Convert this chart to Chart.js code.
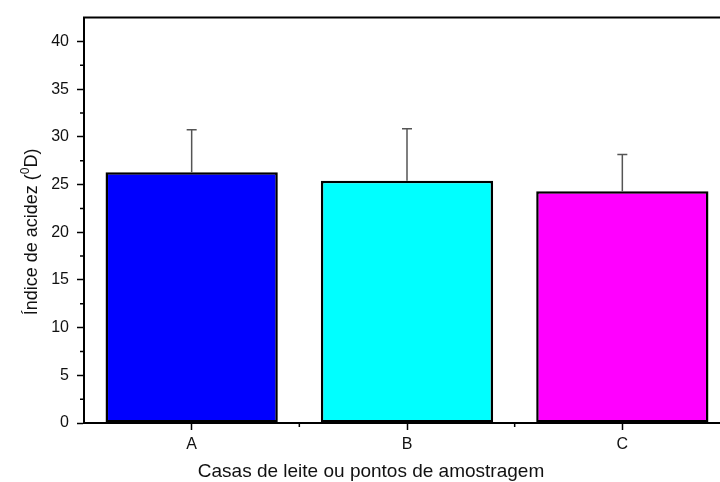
<!DOCTYPE html>
<html>
<head>
<meta charset="utf-8">
<script src="https://cdn.jsdelivr.net/npm/chart.js@4"></script>
<style>
    body { margin: 0; overflow: hidden; background: #fff; }
    #wrap { width: 740px; height: 482px; }
</style>
</head>
<body>
<div id="wrap"><canvas id="acidChart"></canvas></div>
<script>
const categories = ["A", "B", "C"];
const acidity = [26.3, 25.4, 24.3];
const acidityErr = [4.45, 5.45, 3.85];
const barColors = ["#0000ff", "#00ffff", "#ff00ff"];
const yMax = 42.5;
const yStep = 5;

const fontFamily = "'Liberation Sans', Arial, sans-serif";

// upper error bars, drawn from each bar top through the y scale
const errorBars = {
    id: "errorBars",
    afterDatasetsDraw(chart) {
        const ctx = chart.ctx;
        const y = chart.scales.y;
        const meta = chart.getDatasetMeta(0);
        ctx.save();
        ctx.strokeStyle = "#555";
        ctx.lineWidth = 1.5;
        meta.data.forEach((bar, i) => {
            const top = y.getPixelForValue(acidity[i] + acidityErr[i]);
            ctx.beginPath();
            ctx.moveTo(bar.x, bar.y);
            ctx.lineTo(bar.x, top);
            ctx.moveTo(bar.x - 5, top);
            ctx.lineTo(bar.x + 5, top);
            ctx.stroke();
        });
        ctx.restore();
    }
};

// frame, minor ticks and axis titles
const frame = {
    id: "frame",
    afterDraw(chart) {
        const ctx = chart.ctx;
        const area = chart.chartArea;
        const x = chart.scales.x;
        const y = chart.scales.y;
        ctx.save();
        ctx.strokeStyle = "#000";
        ctx.lineWidth = 2;
        ctx.beginPath();
        ctx.moveTo(area.left - 1, area.top);
        ctx.lineTo(area.right, area.top);
        ctx.lineTo(area.right, area.bottom);
        ctx.stroke();

        ctx.lineWidth = 1.5;
        ctx.beginPath();
        for (let v = yStep / 2; v < yMax; v += yStep) {
            const py = y.getPixelForValue(v);
            ctx.moveTo(area.left - 4, py);
            ctx.lineTo(area.left, py);
        }
        for (let i = 0; i < categories.length - 1; i++) {
            const px = (x.getPixelForValue(i) + x.getPixelForValue(i + 1)) / 2;
            ctx.moveTo(px, area.bottom);
            ctx.lineTo(px, area.bottom + 4);
        }
        ctx.stroke();

        ctx.fillStyle = "#111";
        ctx.textBaseline = "alphabetic";
        ctx.font = "19px " + fontFamily;
        ctx.textAlign = "center";
        ctx.fillText("Casas de leite ou pontos de amostragem", 371, 477);

        // y title with superscript 0
        const part1 = "Índice de acidez (";
        const sup = "0";
        const part2 = "D)";
        ctx.font = "18px " + fontFamily;
        const w1 = ctx.measureText(part1).width;
        const w3 = ctx.measureText(part2).width;
        ctx.font = "12px " + fontFamily;
        const w2 = ctx.measureText(sup).width;
        const total = w1 + w2 + w3;
        ctx.translate(37, 232);
        ctx.rotate(-Math.PI / 2);
        ctx.textAlign = "left";
        let cx = -total / 2;
        ctx.font = "18px " + fontFamily;
        ctx.fillText(part1, cx, 0);
        cx += w1;
        ctx.font = "12px " + fontFamily;
        ctx.fillText(sup, cx, -8);
        cx += w2;
        ctx.font = "18px " + fontFamily;
        ctx.fillText(part2, cx, 0);
        ctx.restore();
    }
};

new Chart(document.getElementById("acidChart"), {
    type: "bar",
    data: {
        labels: categories,
        datasets: [{
            data: acidity,
            backgroundColor: barColors,
            borderColor: "#000",
            borderWidth: 2.5,
            borderSkipped: false,
            categoryPercentage: 1,
            barPercentage: 0.8
        }]
    },
    options: {
        responsive: true,
        maintainAspectRatio: false,
        animation: false,
        layout: { padding: { top: 13, right: 10, left: 0, bottom: 0 } },
        plugins: {
            legend: { display: false },
            tooltip: { enabled: false }
        },
        scales: {
            x: {
                afterFit: (s) => { s.height = 59; },
                border: { color: "#000", width: 2 },
                grid: {
                    offset: false,
                    drawOnChartArea: false,
                    tickLength: 7,
                    tickColor: "#000",
                    tickWidth: 1.5
                },
                ticks: {
                    color: "#111",
                    padding: 5,
                    font: { family: fontFamily, size: 16 }
                }
            },
            y: {
                min: 0,
                max: yMax,
                afterFit: (s) => { s.width = 84; },
                afterBuildTicks: (s) => {
                    s.ticks = s.ticks.filter((t) => t.value % yStep === 0);
                },
                border: { color: "#000", width: 2 },
                grid: {
                    drawOnChartArea: false,
                    tickLength: 7,
                    tickColor: "#000",
                    tickWidth: 1.5
                },
                ticks: {
                    stepSize: yStep,
                    color: "#111",
                    padding: 8,
                    font: { family: fontFamily, size: 16 }
                }
            }
        }
    },
    plugins: [errorBars, frame]
});
</script>
</body>
</html>
